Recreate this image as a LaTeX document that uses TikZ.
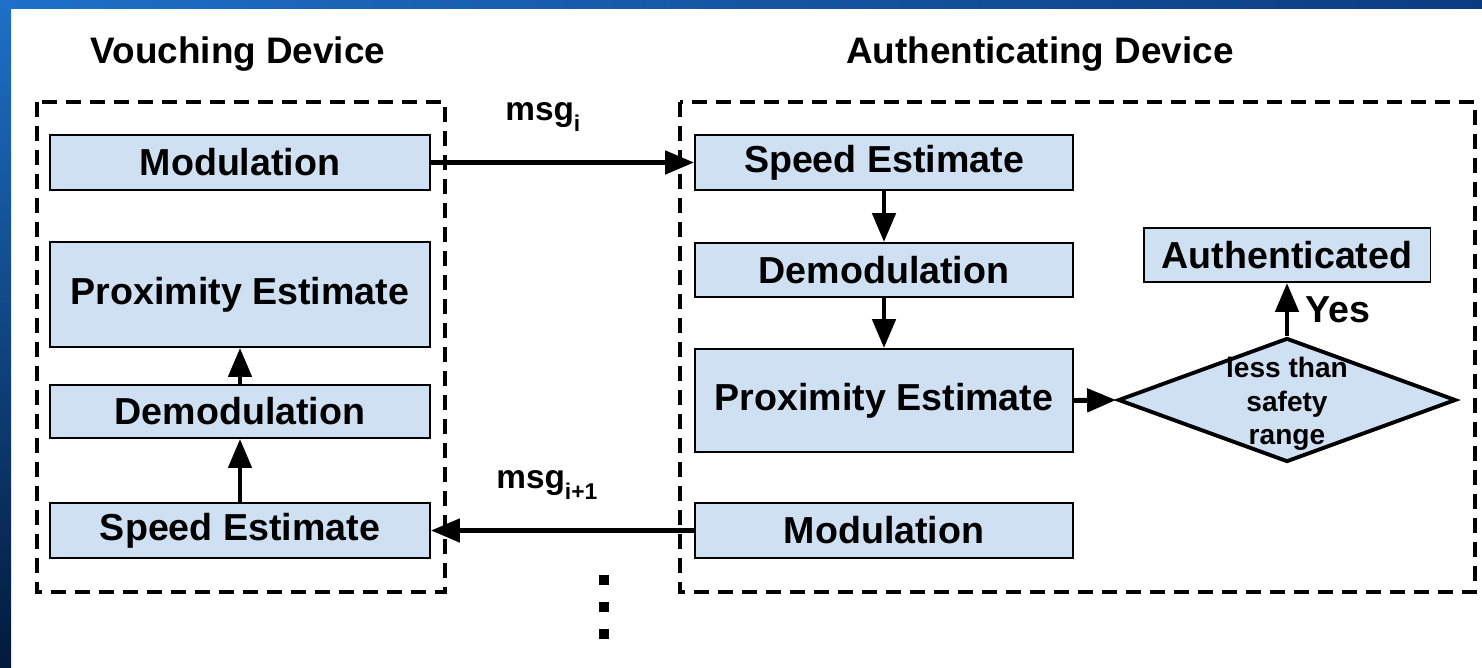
\documentclass[tikz,border=0pt]{standalone}
\usepackage{fontspec}
\setmainfont{Liberation Sans}
\usepackage{xcolor}
\usepackage{tikz}
\usetikzlibrary{shapes.geometric, arrows.meta, positioning}
\definecolor{boxcolor}{RGB}{207, 224, 242}
\definecolor{slidelight}{RGB}{30, 112, 200}
\definecolor{slidemid}{RGB}{12, 60, 128}
\definecolor{slidedark}{RGB}{2, 26, 60}
\newcommand{\msgsub}[1]{\raisebox{-6.8pt}{\fontsize{13}{15}\selectfont #1}}

\begin{document}
\begin{tikzpicture}[
    x=0.02cm, y=-0.02cm,
    block/.style={draw, fill=boxcolor, line width=1.1pt, inner sep=0pt, minimum width=7.6cm, minimum height=1.1cm, font=\fontsize{21.4}{25}\selectfont\bfseries},
    decision/.style={draw, fill=boxcolor, diamond, line width=2.2pt, inner sep=0pt, minimum width=6.76cm, minimum height=2.48cm},
    device/.style={draw, line width=2.2pt, dash pattern=on 0.3cm off 0.18cm},
    arrow/.style={-{Triangle[length=0.58cm, width=0.46cm]}, line width=2.8pt},
    title/.style={font=\fontsize{21}{25}\selectfont\bfseries, anchor=base},
    msg/.style={font=\fontsize{19}{22}\selectfont\bfseries, anchor=base west, inner sep=0pt},
    dot/.style={fill, inner sep=0pt, minimum size=0.2cm}
]
    % Slide background
    \useasboundingbox (0,0) rectangle (1482,667);
    \fill[white] (0,0) rectangle (1482,667);
    \shade[top color=slidelight, bottom color=slidedark] (0,0) rectangle (11,667);
    \shade[left color=slidelight, right color=slidemid] (0,0) rectangle (1482,8);

    % Vouching Device
    \node[title] (vtitle) at (238,63) {Vouching Device};
    \draw[device] (37,102) rectangle (445,592);
    \node[block] (vmod) at (240,162.5) {Modulation};
    \node[block, minimum height=2.1cm] (vprox) at (240,294.5) {Proximity Estimate};
    \node[block, minimum height=1.06cm] (vdemod) at (240,411.5) {Demodulation};
    \node[block] (vspeed) at (240,530.5) {Speed Estimate};

    % Authenticating Device
    \node[title] (atitle) at (1040,63) {Authenticating Device};
    \draw[device] (680,102) rectangle (1475,592);
    \node[block, minimum width=7.56cm] (aspeed) at (884,162.5) {Speed Estimate};
    \node[block, minimum width=7.56cm, minimum height=1.08cm] (ademod) at (884,270) {Demodulation};
    \node[block, minimum width=7.56cm, minimum height=2.06cm] (aprox) at (884,400.5) {Proximity Estimate};
    \node[block, minimum width=7.56cm] (amod) at (884,530.5) {Modulation};

    % Decision
    \node[decision] (check) at (1287,400) {};
    \node[font=\fontsize{16}{19}\selectfont\bfseries, align=center] (checktext) at (1287,404) {less than\\safety\\range};
    \node[block, minimum width=5.74cm, minimum height=1.08cm] (authd) at (1287,255) {Authenticated};

    % Messages
    \node[msg] (msgi) at (505,120) {msg\msgsub{i}};
    \node[msg] (msgnext) at (496,488) {msg\msgsub{i+1}};
    \foreach \y [count=\i] in {580,607,634}
        \node[dot] (dot\i) at (604,\y) {};

    % Connections
    \draw[arrow] (vmod) -- (aspeed);
    \draw[arrow] (aspeed) -- (ademod);
    \draw[arrow] (ademod) -- (aprox);
    \draw[arrow] (aprox.east) -- (check.west);
    \draw[arrow] (check) -- (authd) node[midway, right, xshift=0.2cm, font=\fontsize{21.4}{25}\selectfont\bfseries] {Yes};
    \draw[arrow] (amod) -- (vspeed);
    \draw[arrow] (vspeed) -- (vdemod);
    \draw[arrow] (vdemod) -- (vprox);

\end{tikzpicture}
\end{document}
